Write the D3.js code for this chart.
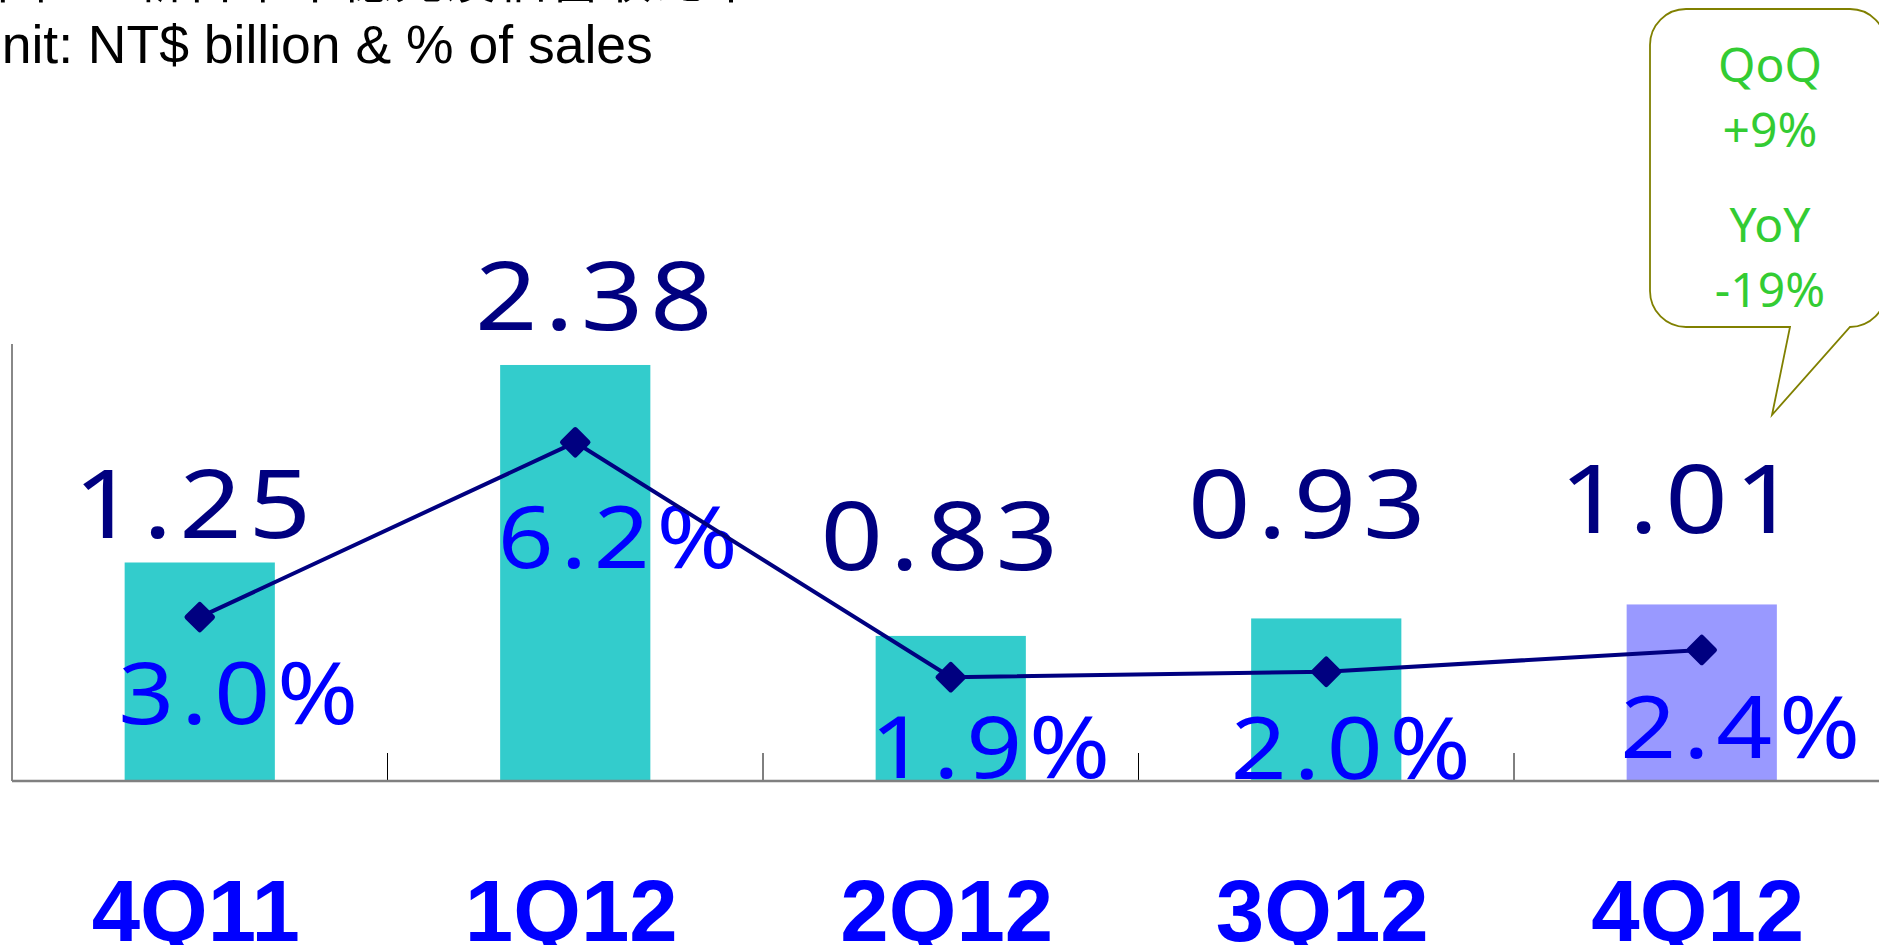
<!DOCTYPE html>
<html>
<head>
<meta charset="utf-8">
<script src="https://cdn.jsdelivr.net/npm/d3@7"></script>
<style>
  html, body { margin: 0; padding: 0; background: #ffffff; overflow: hidden; }
  svg { display: block; }
</style>
</head>
<body>
<svg id="chart" width="1879" height="945"></svg>
<script>
// ---------- data ----------
const categories = ["4Q11", "1Q12", "2Q12", "3Q12", "4Q12"];
const netIncome = [1.25, 2.38, 0.83, 0.93, 1.01];          // NT$ billion
const netIncomeLabels = ["1.25", "2.38", "0.83", "0.93", "1.01"];
const pctOfSales = [3.0, 6.2, 1.9, 2.0, 2.4];              // % of sales
const pctLabels = ["3.0%", "6.2%", "1.9%", "2.0%", "2.4%"];
const titleLines = ["單位：新台幣十億元及佔營收比率", "Unit: NT$ billion & % of sales"];
const calloutLines = ["QoQ", "+9%", "YoY", "-19%"];

// ---------- layout ----------
const W = 1879, H = 945;
const x0 = 12, step = 375.5;
const yTop = 344, yBase = 781;
const barColors = ["#33CCCC", "#33CCCC", "#33CCCC", "#33CCCC", "#9999FF"];
// label nudges (text placement relative to the marks they annotate)
const valLabelDx = [-4, 22, -8, -16, -20];
const valLabelDy = [-25, -35, -66, -80, -71];
const pctLabelDx = [42, 46, 43, 28, 42];
const pctLabelDy = [107, 126, 101, 107, 108];
const stretch = 1.15;

const svg = d3.select("#chart");

const x = d3.scaleBand()
  .domain(categories)
  .range([x0, x0 + step * 5])
  .paddingInner(0.6)
  .paddingOuter(0.3);
const yBar = d3.scaleLinear().domain([0, 2.5]).range([yBase, yTop]);
const yPct = d3.scaleLinear().domain([0, 8]).range([yBase, yTop]);
const cx = d => x(d) + x.bandwidth() / 2;

// clip for plot area
svg.append("defs").append("clipPath").attr("id", "plotClip")
  .append("rect").attr("x", 0).attr("y", 0).attr("width", W).attr("height", yBase - 1);

// title lines
svg.append("text")
  .attr("x", -22).attr("y", -2)
  .attr("font-family", "'Noto Sans CJK TC', 'Noto Sans CJK SC', sans-serif")
  .attr("font-size", 50).attr("letter-spacing", 2).attr("fill", "#000")
  .text(titleLines[0]);
svg.append("text")
  .attr("x", -37).attr("y", 63)
  .attr("font-family", "'Liberation Sans', Arial, sans-serif")
  .attr("font-size", 53.5).attr("fill", "#000")
  .text(titleLines[1]);

// bars
svg.append("g").selectAll("rect")
  .data(categories)
  .join("rect")
  .attr("x", d => x(d))
  .attr("y", (d, i) => yBar(netIncome[i]))
  .attr("width", x.bandwidth())
  .attr("height", (d, i) => yBase - yBar(netIncome[i]))
  .attr("fill", (d, i) => barColors[i]);

// percent labels (clipped by axis)
svg.append("g").attr("clip-path", "url(#plotClip)")
  .selectAll("text")
  .data(categories)
  .join("text")
  .attr("transform", (d, i) => `translate(${cx(d) + pctLabelDx[i]},${yPct(pctOfSales[i]) + pctLabelDy[i]}) scale(${stretch},1)`)
  .attr("text-anchor", "middle")
  .attr("font-family", "'Noto Sans', sans-serif")
  .attr("font-size", 85)
  .attr("letter-spacing", 6)
  .attr("fill", "#0000FF")
  .text((d, i) => pctLabels[i]);

// axes
const axisG = svg.append("g");
axisG.append("line")
  .attr("x1", x0).attr("x2", x0).attr("y1", yTop).attr("y2", yBase)
  .attr("stroke", "#606060").attr("stroke-width", 1.5);
// category boundary ticks (pointing up)
const boundaries = d3.range(1, categories.length).map(i => x(categories[i]) - x.step() * x.paddingInner() / 2);
axisG.selectAll("line.tick")
  .data(boundaries)
  .join("line")
  .attr("class", "tick")
  .attr("x1", d => d).attr("x2", d => d)
  .attr("y1", yBase - 28).attr("y2", yBase)
  .attr("stroke", "#000").attr("stroke-width", 1);
axisG.append("line")
  .attr("x1", x0).attr("x2", W).attr("y1", yBase).attr("y2", yBase)
  .attr("stroke", "#808080").attr("stroke-width", 2.5);

// line
const line = d3.line()
  .x((d, i) => cx(categories[i]))
  .y(d => yPct(d));
svg.append("path")
  .datum(pctOfSales)
  .attr("d", line)
  .attr("fill", "none")
  .attr("stroke", "#000080")
  .attr("stroke-width", 4);

// markers (diamonds)
svg.append("g").selectAll("rect")
  .data(pctOfSales)
  .join("rect")
  .attr("x", -11.5).attr("y", -11.5)
  .attr("width", 23).attr("height", 23)
  .attr("rx", 2.5)
  .attr("fill", "#000080")
  .attr("transform", (d, i) => `translate(${cx(categories[i])},${yPct(d)}) rotate(45)`);

// value labels
svg.append("g").selectAll("text")
  .data(categories)
  .join("text")
  .attr("transform", (d, i) => `translate(${cx(d) + valLabelDx[i]},${yBar(netIncome[i]) + valLabelDy[i]}) scale(${stretch},1)`)
  .attr("text-anchor", "middle")
  .attr("font-family", "'Noto Sans', sans-serif")
  .attr("font-size", 95)
  .attr("letter-spacing", 6)
  .attr("fill", "#000080")
  .text((d, i) => netIncomeLabels[i]);

// category labels
svg.append("g").selectAll("text")
  .data(categories)
  .join("text")
  .attr("x", d => cx(d) - 4)
  .attr("y", 941)
  .attr("text-anchor", "middle")
  .attr("font-family", "'Liberation Sans', Arial, sans-serif")
  .attr("font-weight", "bold")
  .attr("font-size", 87)
  .attr("fill", "#0000FF")
  .text(d => d);

// callout
const L = 1650, T = 9, R = 1886, B = 327, r = 36;
const tailL = 1790, tipX = 1772, tipY = 415;
const p = d3.path();
p.moveTo(L + r, T);
p.lineTo(R - r, T);
p.arcTo(R, T, R, T + r, r);
p.lineTo(R, B - r);
p.arcTo(R, B, R - r, B, r);
p.lineTo(tipX, tipY);
p.lineTo(tailL, B);
p.lineTo(L + r, B);
p.arcTo(L, B, L, B - r, r);
p.lineTo(L, T + r);
p.arcTo(L, T, L + r, T, r);
p.closePath();
svg.append("path")
  .attr("d", p.toString())
  .attr("fill", "#ffffff")
  .attr("stroke", "#808000")
  .attr("stroke-width", 1.8);

const calloutY = [82, 147, 242, 307];
svg.append("g").selectAll("text")
  .data(calloutLines)
  .join("text")
  .attr("x", 1770)
  .attr("y", (d, i) => calloutY[i])
  .attr("text-anchor", "middle")
  .attr("font-family", "'Noto Sans', 'Open Sans', sans-serif")
  .attr("font-size", 48)
  .attr("fill", "#33CC33")
  .text(d => d);
</script>
</body>
</html>
